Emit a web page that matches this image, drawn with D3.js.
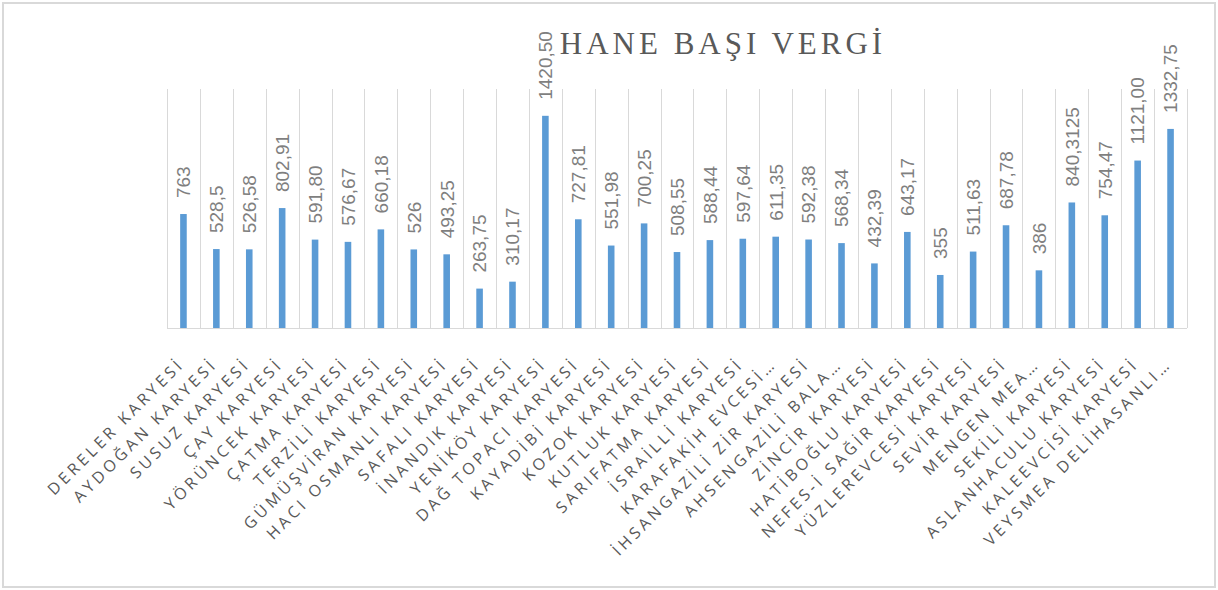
<!DOCTYPE html>
<html>
<head>
<meta charset="utf-8">
<script src="https://cdn.jsdelivr.net/npm/d3@7"></script>
<style>
  html, body { margin: 0; padding: 0; background: #fff; }
  svg { display: block; }
  .title { font-family: "Liberation Serif", "DejaVu Serif", serif; fill: #595959; }
  .val { font-family: "Liberation Sans", "Open Sans", sans-serif; fill: #7f7f7f; }
  .cat { font-family: "Open Sans", "Noto Sans", sans-serif; fill: #595959; }
</style>
</head>
<body>
<div id="chart"></div>
<script>
/* Hane başı vergi — bar chart */

const VILLAGES = [
  "DERELER KARYESİ", "AYDOĞAN KARYESİ", "SUSUZ KARYESİ", "ÇAY KARYESİ",
  "YÖRÜNCEK KARYESİ", "ÇATMA KARYESİ", "TERZİLİ KARYESİ", "GÜMÜŞVİRAN KARYESİ",
  "HACI OSMANLI KARYESİ", "SAFALI KARYESİ", "İNANDIK KARYESİ", "YENİKÖY KARYESİ",
  "DAĞ TOPACI KARYESİ", "KAYADİBİ KARYESİ", "KOZOK KARYESİ", "KUTLUK KARYESİ",
  "SARIFATMA KARYESİ", "İSRAİLLİ KARYESİ", "KARAFAKİH EVCESİ…", "İHSANGAZİLİ ZİR KARYESİ",
  "AHSENGAZİLİ BALA…", "ZİNCİR KARYESİ", "HATİBOĞLU KARYESİ", "NEFES-İ SAĞİR KARYESİ",
  "YÜZLEREVCESİ KARYESİ", "SEVİR KARYESİ", "MENGEN MEA…", "SEKİLİ KARYESİ",
  "ASLANHACULU KARYESİ", "KALEEVCİSİ KARYESİ", "VEYSMEA DELİHASANLI…",
];

const TAX = [
  763, 528.5, 526.58, 802.91, 591.80, 576.67, 660.18, 526, 493.25, 263.75, 310.17,
  1420.50, 727.81, 551.98, 700.25, 508.55, 588.44, 597.64, 611.35, 592.38, 568.34,
  432.39, 643.17, 355, 511.63, 687.78, 386, 840.3125, 754.47, 1121.00, 1332.75,
];

// labels exactly as printed on the chart
const TAX_LABELS = [
  "763", "528,5", "526,58", "802,91", "591,80", "576,67", "660,18", "526", "493,25",
  "263,75", "310,17", "1420,50", "727,81", "551,98", "700,25", "508,55", "588,44",
  "597,64", "611,35", "592,38", "568,34", "432,39", "643,17", "355", "511,63",
  "687,78", "386", "840,3125", "754,47", "1121,00", "1332,75",
];

const Y_MAX = 1600;

const W = 1218, H = 590;
const plot = { left: 167, right: 1187, top: 89, bottom: 328 };

const svg = d3.select("#chart").append("svg")
  .attr("width", W)
  .attr("height", H);

// outer frame
svg.append("rect")
  .attr("x", 3).attr("y", 3)
  .attr("width", W - 6).attr("height", H - 6)
  .attr("fill", "#fff")
  .attr("stroke", "#d9d9d9")
  .attr("stroke-width", 2);

const x = d3.scaleBand()
  .domain(VILLAGES)
  .range([plot.left, plot.right])
  .padding(0);

const y = d3.scaleLinear()
  .domain([0, Y_MAX])
  .range([plot.bottom, plot.top]);

// vertical gridlines at category boundaries
const bounds = VILLAGES.map(v => x(v)).concat([plot.right]);
svg.append("g")
  .selectAll("line")
  .data(bounds)
  .join("line")
  .attr("x1", d => Math.round(d) + 0.5)
  .attr("x2", d => Math.round(d) + 0.5)
  .attr("y1", plot.top)
  .attr("y2", plot.bottom)
  .attr("stroke", "#d9d9d9")
  .attr("stroke-width", 1);

// baseline
svg.append("line")
  .attr("x1", plot.left).attr("x2", plot.right)
  .attr("y1", plot.bottom + 0.5).attr("y2", plot.bottom + 0.5)
  .attr("stroke", "#d9d9d9");

// bars
const barW = x.bandwidth() * 0.2;
svg.append("g")
  .selectAll("rect")
  .data(TAX)
  .join("rect")
  .attr("x", (d, i) => x(VILLAGES[i]) + x.bandwidth() / 2 - barW / 2)
  .attr("y", d => y(d))
  .attr("width", barW)
  .attr("height", d => y(0) - y(d))
  .attr("fill", "#5b9bd5");

// value labels, rotated
svg.append("g")
  .selectAll("text")
  .data(TAX)
  .join("text")
  .attr("class", "val")
  .attr("transform", (d, i) =>
    `translate(${x(VILLAGES[i]) + x.bandwidth() / 2},${y(d) - 16}) rotate(-90)`)
  .attr("dy", "0.36em")
  .attr("font-size", 19)
  .text((d, i) => TAX_LABELS[i]);

// category labels, rotated -45
svg.append("g")
  .selectAll("text")
  .data(VILLAGES)
  .join("text")
  .attr("class", "cat")
  .attr("transform", d => `translate(${x(d) + x.bandwidth() / 2 + 2},${plot.bottom + 37}) rotate(-45)`)
  .attr("text-anchor", "end")
  .attr("font-size", 16)
  .attr("letter-spacing", 3.6)
  .text(d => d);

// title
svg.append("text")
  .attr("class", "title")
  .attr("x", 723)
  .attr("y", 54)
  .attr("text-anchor", "middle")
  .attr("font-size", 31)
  .attr("letter-spacing", 4)
  .text("HANE BAŞI VERGİ");
</script>
</body>
</html>
